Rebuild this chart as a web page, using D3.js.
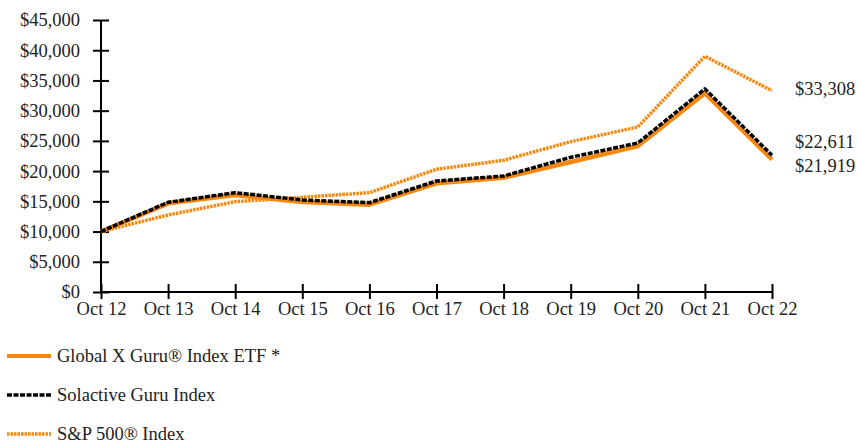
<!DOCTYPE html>
<html>
<head>
<meta charset="utf-8">
<script src="https://cdn.jsdelivr.net/npm/d3@7"></script>
<style>
  body { margin: 0; background: #fff; }
  text { font-family: "Liberation Serif", "Times New Roman", serif; fill: #222; }
</style>
</head>
<body>
<div id="chart"></div>
<script>
// chart values
const years = ["Oct 12", "Oct 13", "Oct 14", "Oct 15", "Oct 16", "Oct 17", "Oct 18", "Oct 19", "Oct 20", "Oct 21", "Oct 22"];
const guruEtf = [10000, 14670, 16050, 14890, 14440, 17980, 18900, 21500, 24150, 32900, 21919];
const solactive = [10000, 14840, 16430, 15220, 14770, 18360, 19190, 22280, 24650, 33600, 22611];
const sp500 = [10000, 12740, 14940, 15670, 16430, 20300, 21790, 24870, 27300, 39000, 33308];
const yTicks = [0, 5000, 10000, 15000, 20000, 25000, 30000, 35000, 40000, 45000];
const endLabels = ["$33,308", "$22,611", "$21,919"];
const legendNames = ["Global X Guru® Index ETF *", "Solactive Guru Index", "S&P 500® Index"];

const orange = "#F7880F";
const width = 859, height = 443;
const margin = {top: 20, left: 101, right: 87};
const plotBottom = 292;
const fontSize = 18.5;

const svg = d3.select("#chart").append("svg")
  .attr("width", width)
  .attr("height", height);

let xScale = d3.scalePoint().domain(years).range([margin.left, width - margin.right]);
let yScale = d3.scaleLinear().domain([0, 45000]).range([plotBottom, margin.top]);

// y axis, ticks cross the line
let yAxis = svg.append("g")
  .attr("transform", "translate(" + margin.left + ",0)")
  .call(d3.axisLeft(yScale).tickValues(yTicks).tickSize(8).tickPadding(13)
    .tickFormat(d => "$" + d3.format(",")(d)));
yAxis.select(".domain").attr("stroke", "#000").attr("stroke-width", 2).attr("d", "M0," + margin.top + "V" + plotBottom);
yAxis.selectAll(".tick line").attr("x1", 8).attr("x2", -8).attr("stroke-width", 2);
yAxis.selectAll(".tick text").attr("font-size", fontSize).style("font-family", "Liberation Serif, serif").attr("fill", "#222");

// x axis
let xAxis = svg.append("g")
  .attr("transform", "translate(0," + plotBottom + ")")
  .call(d3.axisBottom(xScale).tickSize(7).tickPadding(3).tickSizeOuter(0));
xAxis.select(".domain").attr("stroke", "#000").attr("stroke-width", 2)
  .attr("d", "M" + xScale(years[0]) + ",0H" + xScale(years[years.length - 1]));
xAxis.selectAll(".tick line").attr("y1", -8).attr("y2", 7).attr("stroke-width", 2);
xAxis.selectAll(".tick text").attr("font-size", fontSize).style("font-family", "Liberation Serif, serif").attr("fill", "#222");

let line = d3.line()
  .x((d, i) => xScale(years[i]))
  .y(d => yScale(d));

const series = [
  {data: sp500, color: orange, width: 3.5, dash: "2.5,1"},
  {data: guruEtf, color: orange, width: 4.5, dash: null},
  {data: solactive, color: "#000", width: 3.5, dash: "5,1.5"}
];

let linesGroup = svg.append("g").attr("id", "lines");
for (let s of series) {
  linesGroup.append("path")
    .datum(s.data)
    .attr("fill", "none")
    .attr("stroke", s.color)
    .attr("stroke-width", s.width)
    .attr("stroke-dasharray", s.dash)
    .attr("stroke-linejoin", "round")
    .attr("d", line);
}

// end value labels
const endY = [89, 142, 166];
svg.selectAll(".endLabel")
  .data(endLabels)
  .enter().append("text")
  .attr("class", "endLabel")
  .attr("x", 795)
  .attr("y", (d, i) => endY[i])
  .attr("dy", "0.35em")
  .attr("font-size", fontSize)
  .text(d => d);

// legend
const legendStyles = [
  {color: orange, width: 4, dash: null},
  {color: "#000", width: 3.5, dash: "5,1.5"},
  {color: orange, width: 3.5, dash: "2.5,1"}
];
let legend = svg.append("g").attr("class", "legend");
legendNames.forEach((name, i) => {
  let y = 356 + i * 39;
  legend.append("line")
    .attr("x1", 7).attr("x2", 51)
    .attr("y1", y).attr("y2", y)
    .attr("stroke", legendStyles[i].color)
    .attr("stroke-width", legendStyles[i].width)
    .attr("stroke-dasharray", legendStyles[i].dash);
  legend.append("text")
    .attr("x", 57).attr("y", y)
    .attr("dy", "0.33em")
    .attr("font-size", fontSize)
    .text(name);
});
</script>
</body>
</html>
